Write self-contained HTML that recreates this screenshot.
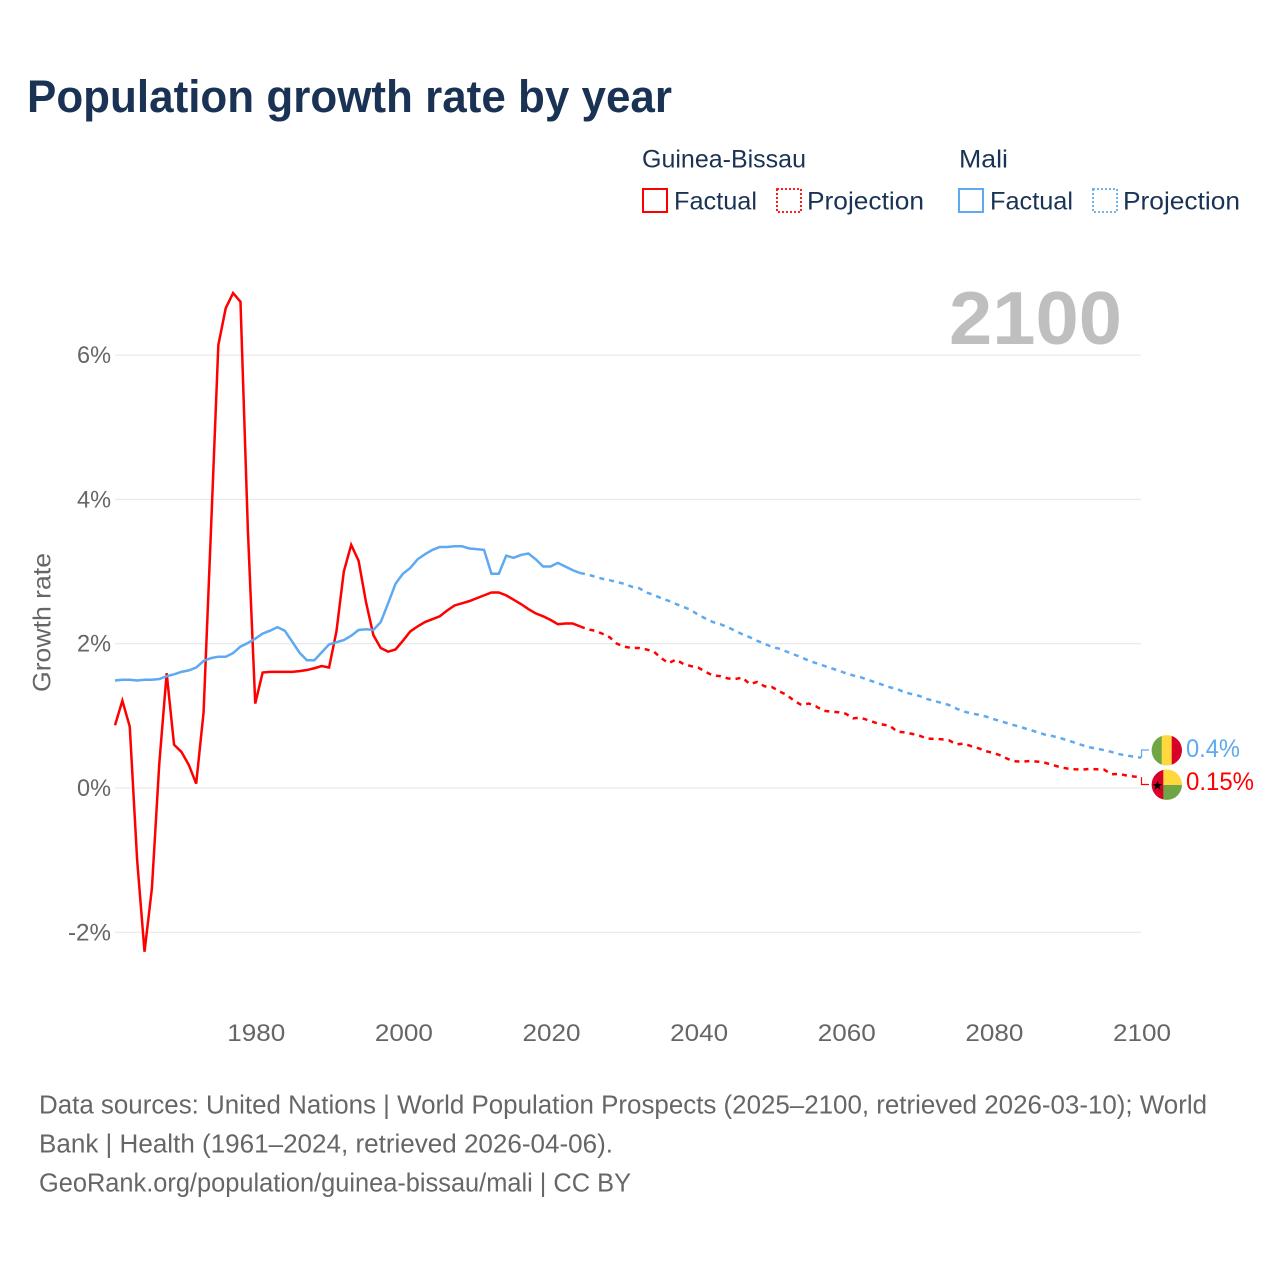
<!DOCTYPE html>
<html lang="en">
<head>
<meta charset="utf-8">
<title>Population growth rate by year</title>
<style>
html,body{margin:0;padding:0;background:#fff;width:1280px;height:1280px;overflow:hidden}
svg{display:block}
text{font-family:"Liberation Sans",sans-serif}
.tick{font-size:24.5px;fill:#666}
.legend{font-size:25px;fill:#1a3355}
.foot{font-size:25.5px;fill:#666}
</style>
</head>
<body>
<svg id="chart" xmlns="http://www.w3.org/2000/svg" width="1280" height="1280" viewBox="0 0 1280 1280">
  <rect x="0" y="0" width="1280" height="1280" fill="#ffffff"/>
  <text x="27" y="112" font-size="45" font-weight="700" fill="#1a3355" textLength="645" lengthAdjust="spacingAndGlyphs">Population growth rate by year</text>

  <g>
    <text class="legend" x="642" y="167.5" textLength="164" lengthAdjust="spacingAndGlyphs">Guinea-Bissau</text>
    <text class="legend" x="959" y="167.5" textLength="49" lengthAdjust="spacingAndGlyphs">Mali</text>
    <g>
      <rect x="643" y="189" width="24" height="23" fill="none" stroke="#ff0000" stroke-width="2"/>
      <text class="legend" x="674" y="209.5" textLength="83" lengthAdjust="spacingAndGlyphs">Factual</text>
    </g>
    <g>
      <rect x="777" y="189" width="24" height="23" fill="none" stroke="#ff0000" stroke-width="1.8" stroke-dasharray="2 2"/>
      <text class="legend" x="807" y="209.5" textLength="117" lengthAdjust="spacingAndGlyphs">Projection</text>
    </g>
    <g>
      <rect x="959" y="189" width="24" height="23" fill="none" stroke="#5ea9ef" stroke-width="2"/>
      <text class="legend" x="990" y="209.5" textLength="83" lengthAdjust="spacingAndGlyphs">Factual</text>
    </g>
    <g>
      <rect x="1093" y="189" width="24" height="23" fill="none" stroke="#5ea9ef" stroke-width="1.8" stroke-dasharray="2 2"/>
      <text class="legend" x="1123" y="209.5" textLength="117" lengthAdjust="spacingAndGlyphs">Projection</text>
    </g>
  </g>

  <text transform="translate(50.5,622.5) rotate(-90)" text-anchor="middle" font-size="25" fill="#666" textLength="139" lengthAdjust="spacingAndGlyphs">Growth rate</text>

  <g id="grid"></g>
  <g id="y-ticks"></g>
  <g id="x-ticks"></g>

  <text x="949" y="344" font-size="75" font-weight="700" fill="#bfbfbf" textLength="173" lengthAdjust="spacingAndGlyphs">2100</text>

  <g id="series"></g>

  <g>
    <path id="mali-connector" fill="none" stroke="#5ea9ef" stroke-width="1.2" d=""/>
    <g>
      <clipPath id="clip-mali"><circle cx="1166.8" cy="750.3" r="15.2"/></clipPath>
      <g clip-path="url(#clip-mali)">
        <rect x="1151" y="735" width="11" height="31" fill="#6fa544"/>
        <rect x="1161.7" y="735" width="10.2" height="31" fill="#ffd83d"/>
        <rect x="1171.7" y="735" width="11" height="31" fill="#d80027"/>
      </g>
    </g>
    <text id="mali-end-label" x="1186" y="757" font-size="25" fill="#5ea9ef" textLength="54" lengthAdjust="spacingAndGlyphs">0.4%</text>
  </g>

  <g>
    <path id="gb-connector" fill="none" stroke="#ff0000" stroke-width="1.2" d=""/>
    <g>
      <clipPath id="clip-gb"><circle cx="1166.8" cy="784.7" r="15.2"/></clipPath>
      <g clip-path="url(#clip-gb)">
        <rect x="1163" y="769" width="20" height="16" fill="#ffd83d"/>
        <rect x="1163" y="785" width="20" height="16" fill="#6fa544"/>
        <rect x="1151" y="769" width="12.3" height="32" fill="#d80027"/>
        <polygon points="1157.5,780.5 1158.7,784 1162.3,784 1159.4,786.2 1160.5,789.7 1157.5,787.6 1154.5,789.7 1155.6,786.2 1152.7,784 1156.3,784" fill="#000"/>
      </g>
    </g>
    <text id="gb-end-label" x="1186" y="790" font-size="25" fill="#ff0000" textLength="68" lengthAdjust="spacingAndGlyphs">0.15%</text>
  </g>

  <g>
    <text class="foot" x="39" y="1113.5" textLength="1168" lengthAdjust="spacingAndGlyphs">Data sources: United Nations | World Population Prospects (2025–2100, retrieved 2026-03-10); World</text>
    <text class="foot" x="39" y="1152.5" textLength="574" lengthAdjust="spacingAndGlyphs">Bank | Health (1961–2024, retrieved 2026-04-06).</text>
    <text class="foot" x="39" y="1191.5" textLength="592" lengthAdjust="spacingAndGlyphs">GeoRank.org/population/guinea-bissau/mali | CC BY</text>
  </g>
</svg>
<script>
const yTickValues = [-2, 0, 2, 4, 6];
const xTickYears = [1980, 2000, 2020, 2040, 2060, 2080, 2100];
const factualStartYear = 1961;
const projectionStartYear = 2024;

const guineaBissauFactual = [
  0.87,1.21,0.85,-1.00,-2.27,-1.39,0.34,1.59,0.60,0.50,
  0.32,0.06,1.05,3.57,6.14,6.65,6.86,6.74,3.58,1.17,
  1.60,1.61,1.61,1.61,1.61,1.62,1.635,1.66,1.69,1.67,
  2.17,3.00,3.37,3.15,2.58,2.12,1.94,1.89,1.92,2.04,
  2.17,2.24,2.30,2.34,2.38,2.46,2.53,2.56,2.59,2.63,
  2.67,2.71,2.71,2.67,2.61,2.55,2.48,2.42,2.38,2.33,
  2.27,2.28,2.28,2.24
];
const guineaBissauProjection = [
  2.24,2.20,2.18,2.14,2.09,2.00,1.96,1.94,1.94,1.92,
  1.89,1.80,1.73,1.78,1.72,1.69,1.67,1.61,1.56,1.55,
  1.52,1.51,1.53,1.44,1.47,1.41,1.40,1.34,1.29,1.21,
  1.15,1.17,1.13,1.07,1.06,1.05,1.03,0.965,0.975,0.94,
  0.905,0.88,0.86,0.78,0.77,0.75,0.725,0.685,0.68,0.675,
  0.66,0.605,0.615,0.58,0.55,0.51,0.485,0.45,0.40,0.37,
  0.365,0.375,0.365,0.35,0.32,0.29,0.27,0.26,0.255,0.265,
  0.26,0.255,0.19,0.195,0.175,0.16,0.15
];
const maliFactual = [
  1.49,1.50,1.50,1.49,1.50,1.50,1.51,1.55,1.575,1.61,
  1.63,1.67,1.76,1.80,1.82,1.82,1.87,1.96,2.01,2.07,
  2.14,2.18,2.23,2.18,2.03,1.875,1.77,1.77,1.88,1.99,
  2.02,2.05,2.11,2.19,2.20,2.19,2.30,2.56,2.83,2.97,
  3.05,3.17,3.24,3.30,3.34,3.34,3.35,3.35,3.32,3.31,
  3.30,2.97,2.97,3.22,3.19,3.23,3.25,3.17,3.07,3.07,
  3.12,3.07,3.02,2.98
];
const maliProjection = [
  2.98,2.96,2.93,2.90,2.88,2.855,2.83,2.79,2.77,2.71,
  2.675,2.63,2.595,2.55,2.51,2.47,2.40,2.35,2.30,2.27,
  2.23,2.18,2.13,2.09,2.04,2.00,1.955,1.93,1.89,1.85,
  1.81,1.765,1.73,1.695,1.66,1.63,1.59,1.56,1.535,1.50,
  1.465,1.43,1.395,1.37,1.325,1.30,1.275,1.235,1.205,1.18,
  1.15,1.10,1.06,1.035,1.015,0.99,0.955,0.925,0.895,0.865,
  0.835,0.805,0.77,0.74,0.72,0.695,0.66,0.63,0.595,0.565,
  0.545,0.525,0.50,0.47,0.45,0.435,0.42
];

const SVG_NS = 'http://www.w3.org/2000/svg';
const RED = '#ff0000';
const BLUE = '#5ea9ef';

function xScale(year) { return 115 + (year - 1961) * (1141 - 115) / (2100 - 1961); }
function yScale(value) { return 788 - value * 72.15; }

function linePath(values, startYear) {
  return values.map(function (v, i) {
    return (i === 0 ? 'M' : 'L') + xScale(startYear + i).toFixed(2) + ' ' + yScale(v).toFixed(2);
  }).join(' ');
}

const gridGroup = document.getElementById('grid');
const yTickGroup = document.getElementById('y-ticks');
const xTickGroup = document.getElementById('x-ticks');
const seriesGroup = document.getElementById('series');

yTickValues.forEach(function (v) {
  const line = document.createElementNS(SVG_NS, 'line');
  
  
  line.setAttribute('x1', 115);
  line.setAttribute('x2', 1141);
  line.setAttribute('y1', yScale(v));
  line.setAttribute('y2', yScale(v));
  line.setAttribute('stroke', '#e4e4e4');
  line.setAttribute('stroke-width', 1);
  gridGroup.appendChild(line);

  const label = document.createElementNS(SVG_NS, 'text');
  
  
  label.setAttribute('class', 'tick');
  label.setAttribute('x', 111);
  label.setAttribute('y', yScale(v) + 8);
  label.setAttribute('text-anchor', 'end');
  label.setAttribute('textLength', v < 0 ? 43 : 34);
  label.setAttribute('lengthAdjust', 'spacingAndGlyphs');
  label.textContent = v + '%';
  yTickGroup.appendChild(label);
});

xTickYears.forEach(function (year) {
  const label = document.createElementNS(SVG_NS, 'text');
  
  
  label.setAttribute('class', 'tick');
  label.setAttribute('x', xScale(year) + 1);
  label.setAttribute('y', 1041);
  label.setAttribute('text-anchor', 'middle');
  label.setAttribute('textLength', 58);
  label.setAttribute('lengthAdjust', 'spacingAndGlyphs');
  label.textContent = year;
  xTickGroup.appendChild(label);
});

const guineaFactualLine = document.createElementNS(SVG_NS, 'path');


guineaFactualLine.setAttribute('d', linePath(guineaBissauFactual, factualStartYear));
guineaFactualLine.setAttribute('fill', 'none');
guineaFactualLine.setAttribute('stroke', RED);
guineaFactualLine.setAttribute('stroke-width', 2.5);
seriesGroup.appendChild(guineaFactualLine);

const guineaProjectionLine = document.createElementNS(SVG_NS, 'path');


guineaProjectionLine.setAttribute('d', linePath(guineaBissauProjection, projectionStartYear));
guineaProjectionLine.setAttribute('fill', 'none');
guineaProjectionLine.setAttribute('stroke', RED);
guineaProjectionLine.setAttribute('stroke-width', 2.5);
guineaProjectionLine.setAttribute('stroke-dasharray', '5 5');
seriesGroup.appendChild(guineaProjectionLine);

const maliFactualLine = document.createElementNS(SVG_NS, 'path');


maliFactualLine.setAttribute('d', linePath(maliFactual, factualStartYear));
maliFactualLine.setAttribute('fill', 'none');
maliFactualLine.setAttribute('stroke', BLUE);
maliFactualLine.setAttribute('stroke-width', 2.5);
seriesGroup.appendChild(maliFactualLine);

const maliProjectionLine = document.createElementNS(SVG_NS, 'path');


maliProjectionLine.setAttribute('d', linePath(maliProjection, projectionStartYear));
maliProjectionLine.setAttribute('fill', 'none');
maliProjectionLine.setAttribute('stroke', BLUE);
maliProjectionLine.setAttribute('stroke-width', 2.5);
maliProjectionLine.setAttribute('stroke-dasharray', '5 5');
seriesGroup.appendChild(maliProjectionLine);

const endX = xScale(2100) + 0.5;
const maliEndY = yScale(maliProjection[maliProjection.length - 1]);
const guineaEndY = yScale(guineaBissauProjection[guineaBissauProjection.length - 1]);
document.getElementById('mali-connector').setAttribute('d', 'M' + endX + ' ' + maliEndY + ' V750 H1149');
document.getElementById('gb-connector').setAttribute('d', 'M' + endX + ' ' + guineaEndY + ' V784.5 H1149');
</script>
</body>
</html>
